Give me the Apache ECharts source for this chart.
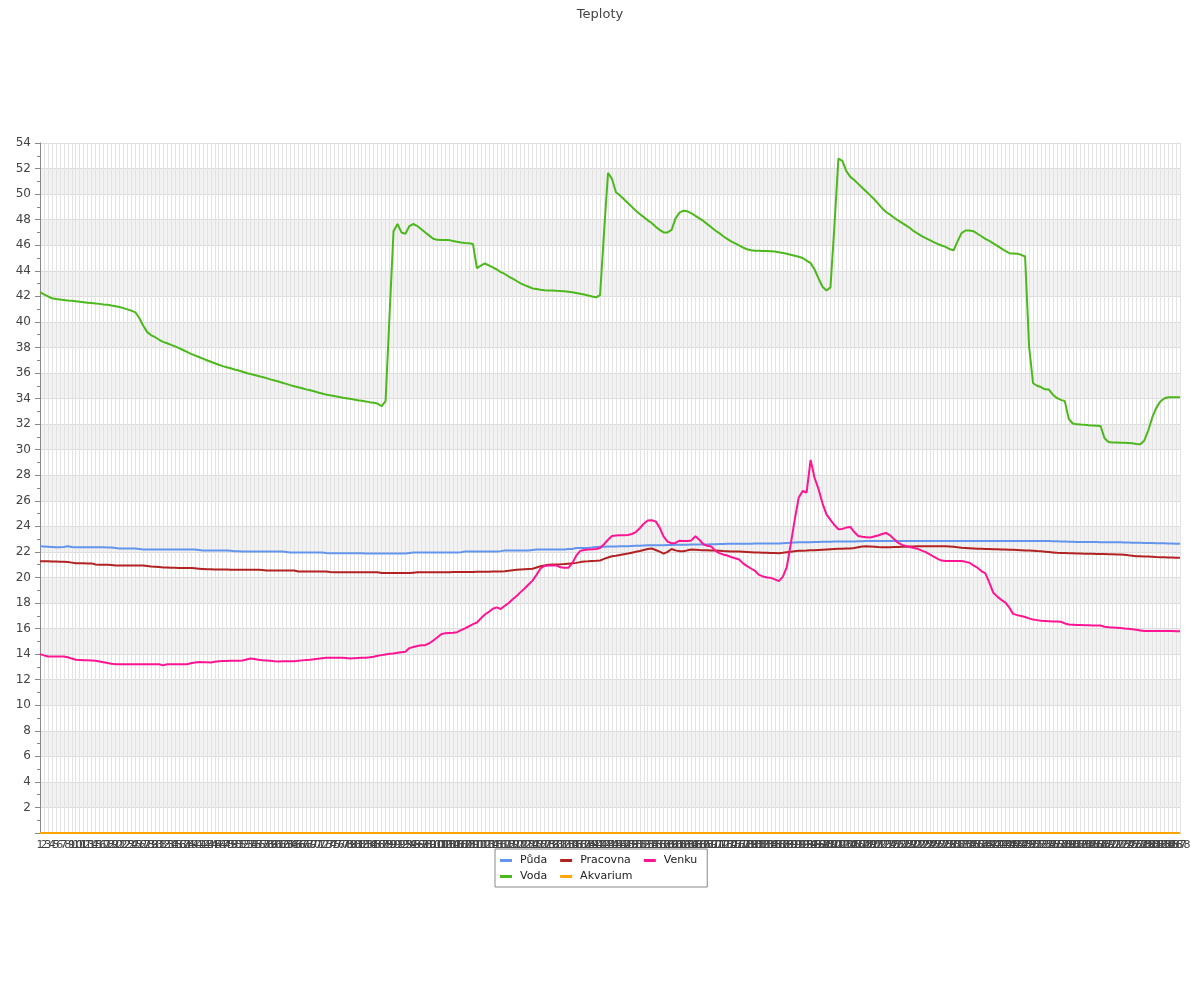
<!DOCTYPE html>
<html>
<head>
<meta charset="utf-8">
<script src="https://cdn.jsdelivr.net/npm/echarts@6/dist/echarts.min.js"></script>
<style>html,body{margin:0;padding:0;background:#fff}#c{width:1200px;height:1000px}</style>
</head>
<body>
<div id="c"></div>
<script>
// categories 1..288 (five-minute samples)
var categories = [];
for (var k = 1; k <= 288; k++) categories.push(String(k));

var puda = [
22.44,22.42,22.40,22.38,22.36,22.36,22.38,22.44,22.38,22.36,22.36,22.36,
22.36,22.36,22.36,22.36,22.36,22.34,22.34,22.30,22.26,22.26,22.26,22.26,
22.26,22.22,22.18,22.18,22.18,22.18,22.18,22.18,22.18,22.18,22.18,22.18,
22.18,22.18,22.18,22.18,22.14,22.10,22.10,22.10,22.10,22.10,22.10,22.10,
22.08,22.05,22.05,22.03,22.03,22.03,22.03,22.03,22.03,22.03,22.03,22.03,
22.03,22.03,22.00,21.95,21.95,21.95,21.95,21.95,21.95,21.95,21.95,21.95,
21.92,21.90,21.90,21.90,21.90,21.90,21.90,21.90,21.90,21.90,21.88,21.87,
21.87,21.87,21.87,21.87,21.87,21.87,21.87,21.87,21.87,21.92,21.95,21.95,
21.95,21.95,21.95,21.95,21.95,21.95,21.95,21.95,21.95,21.95,21.98,22.03,
22.03,22.03,22.03,22.03,22.03,22.03,22.03,22.03,22.06,22.10,22.10,22.10,
22.10,22.10,22.10,22.10,22.14,22.18,22.18,22.18,22.18,22.18,22.18,22.18,
22.18,22.23,22.23,22.30,22.30,22.30,22.30,22.34,22.39,22.40,22.41,22.42,
22.42,22.43,22.44,22.44,22.44,22.46,22.48,22.49,22.50,22.51,22.52,22.52,
22.52,22.52,22.53,22.54,22.55,22.55,22.56,22.56,22.57,22.57,22.57,22.57,
22.58,22.59,22.60,22.61,22.62,22.63,22.63,22.63,22.63,22.64,22.64,22.64,
22.65,22.65,22.65,22.65,22.65,22.65,22.66,22.68,22.70,22.72,22.74,22.75,
22.76,22.76,22.76,22.77,22.78,22.79,22.80,22.80,22.81,22.81,22.81,22.81,
22.81,22.82,22.83,22.84,22.85,22.86,22.86,22.86,22.86,22.86,22.86,22.86,
22.86,22.86,22.86,22.86,22.86,22.86,22.86,22.86,22.86,22.86,22.86,22.86,
22.86,22.86,22.86,22.86,22.86,22.86,22.86,22.86,22.86,22.86,22.86,22.86,
22.86,22.86,22.86,22.86,22.86,22.86,22.86,22.86,22.86,22.86,22.86,22.86,
22.86,22.86,22.85,22.84,22.83,22.82,22.81,22.80,22.79,22.78,22.78,22.78,
22.77,22.77,22.77,22.76,22.76,22.76,22.76,22.76,22.75,22.74,22.73,22.72,
22.72,22.71,22.70,22.70,22.69,22.68,22.68,22.67,22.66,22.65,22.64,22.63
];

var voda = [
42.34,42.15,42.00,41.85,41.80,41.76,41.72,41.68,41.65,41.62,41.58,41.54,
41.50,41.47,41.44,41.41,41.37,41.34,41.28,41.23,41.17,41.08,40.98,40.88,
40.75,40.30,39.70,39.20,38.95,38.80,38.60,38.44,38.33,38.20,38.08,37.95,
37.80,37.65,37.50,37.38,37.25,37.12,37.00,36.88,36.76,36.65,36.54,36.45,
36.37,36.28,36.20,36.10,36.00,35.92,35.85,35.77,35.68,35.60,35.50,35.42,
35.33,35.24,35.15,35.05,34.96,34.88,34.80,34.72,34.65,34.57,34.48,34.40,
34.31,34.25,34.20,34.14,34.08,34.03,33.98,33.93,33.87,33.82,33.77,33.72,
33.68,33.60,33.40,33.80,40.50,47.10,47.66,47.00,46.90,47.50,47.66,47.50,
47.25,47.00,46.75,46.50,46.42,46.40,46.40,46.40,46.33,46.27,46.22,46.18,
46.15,46.10,44.20,44.40,44.57,44.42,44.26,44.10,43.90,43.75,43.55,43.38,
43.20,43.02,42.88,42.75,42.62,42.57,42.52,42.48,42.46,42.45,42.43,42.42,
42.40,42.36,42.32,42.26,42.20,42.14,42.06,41.98,41.92,42.10,47.00,51.66,
51.20,50.15,49.90,49.60,49.30,49.00,48.70,48.45,48.20,47.95,47.74,47.45,
47.20,47.00,47.00,47.20,48.10,48.55,48.70,48.65,48.50,48.30,48.10,47.90,
47.65,47.40,47.15,46.95,46.70,46.50,46.30,46.15,45.98,45.82,45.68,45.60,
45.57,45.56,45.55,45.54,45.53,45.50,45.45,45.40,45.33,45.25,45.18,45.10,
45.00,44.80,44.60,44.10,43.40,42.75,42.45,42.70,47.50,52.78,52.60,51.80,
51.35,51.10,50.80,50.50,50.20,49.90,49.60,49.25,48.90,48.60,48.40,48.15,
47.95,47.75,47.55,47.35,47.10,46.90,46.72,46.55,46.40,46.25,46.10,45.98,
45.87,45.70,45.60,46.30,46.95,47.15,47.15,47.10,46.90,46.70,46.50,46.34,
46.15,45.95,45.75,45.55,45.38,45.36,45.34,45.25,45.12,38.10,35.20,35.00,
34.90,34.72,34.70,34.30,34.05,33.90,33.80,32.40,32.05,31.98,31.96,31.95,
31.92,31.90,31.88,31.85,30.90,30.60,30.57,30.57,30.55,30.54,30.52,30.50,
30.45,30.42,30.70,31.50,32.50,33.25,33.75,34.00,34.10,34.10,34.10,34.10
];

var pracovna = [
21.27,21.27,21.26,21.25,21.25,21.23,21.22,21.20,21.16,21.12,21.12,21.11,
21.10,21.10,21.02,21.00,21.00,20.99,20.97,20.94,20.94,20.94,20.94,20.94,
20.94,20.94,20.94,20.90,20.86,20.84,20.81,20.78,20.77,20.76,20.75,20.74,
20.74,20.73,20.73,20.71,20.69,20.67,20.65,20.64,20.63,20.63,20.62,20.62,
20.61,20.61,20.60,20.60,20.60,20.60,20.60,20.60,20.58,20.55,20.55,20.55,
20.55,20.55,20.55,20.55,20.55,20.47,20.47,20.47,20.47,20.47,20.47,20.47,
20.47,20.42,20.40,20.40,20.40,20.40,20.40,20.40,20.40,20.40,20.40,20.40,
20.40,20.40,20.34,20.34,20.34,20.34,20.34,20.34,20.34,20.34,20.37,20.40,
20.40,20.40,20.40,20.40,20.41,20.41,20.41,20.41,20.42,20.42,20.42,20.42,
20.43,20.43,20.44,20.44,20.45,20.45,20.46,20.46,20.47,20.48,20.52,20.57,
20.60,20.62,20.64,20.66,20.68,20.78,20.88,20.94,21.00,21.01,21.02,21.03,
21.05,21.08,21.11,21.14,21.20,21.25,21.26,21.28,21.30,21.33,21.45,21.56,
21.66,21.70,21.76,21.82,21.87,21.94,22.01,22.07,22.15,22.22,22.26,22.15,
22.02,21.87,22.00,22.23,22.12,22.05,22.05,22.12,22.18,22.16,22.14,22.13,
22.12,22.11,22.10,22.08,22.06,22.05,22.04,22.03,22.03,22.02,22.00,21.98,
21.96,21.95,21.94,21.93,21.92,21.91,21.90,21.93,21.98,22.02,22.05,22.08,
22.09,22.10,22.12,22.13,22.15,22.17,22.19,22.21,22.23,22.24,22.25,22.26,
22.26,22.30,22.36,22.42,22.44,22.42,22.40,22.38,22.37,22.37,22.37,22.38,
22.39,22.40,22.41,22.42,22.43,22.44,22.44,22.44,22.44,22.44,22.44,22.44,
22.44,22.42,22.40,22.36,22.33,22.31,22.29,22.27,22.25,22.24,22.23,22.22,
22.21,22.20,22.19,22.18,22.17,22.16,22.15,22.13,22.11,22.10,22.08,22.06,
22.05,22.02,21.99,21.96,21.93,21.92,21.91,21.90,21.89,21.88,21.87,21.86,
21.86,21.85,21.84,21.84,21.83,21.82,21.81,21.80,21.80,21.77,21.73,21.70,
21.66,21.65,21.64,21.63,21.62,21.60,21.59,21.58,21.57,21.56,21.55,21.54
];

var akvarium = [
0,0,0,0,0,0,0,0,0,0,0,0, 0,0,0,0,0,0,0,0,0,0,0,0,
0,0,0,0,0,0,0,0,0,0,0,0, 0,0,0,0,0,0,0,0,0,0,0,0,
0,0,0,0,0,0,0,0,0,0,0,0, 0,0,0,0,0,0,0,0,0,0,0,0,
0,0,0,0,0,0,0,0,0,0,0,0, 0,0,0,0,0,0,0,0,0,0,0,0,
0,0,0,0,0,0,0,0,0,0,0,0, 0,0,0,0,0,0,0,0,0,0,0,0,
0,0,0,0,0,0,0,0,0,0,0,0, 0,0,0,0,0,0,0,0,0,0,0,0,
0,0,0,0,0,0,0,0,0,0,0,0, 0,0,0,0,0,0,0,0,0,0,0,0,
0,0,0,0,0,0,0,0,0,0,0,0, 0,0,0,0,0,0,0,0,0,0,0,0,
0,0,0,0,0,0,0,0,0,0,0,0, 0,0,0,0,0,0,0,0,0,0,0,0,
0,0,0,0,0,0,0,0,0,0,0,0, 0,0,0,0,0,0,0,0,0,0,0,0,
0,0,0,0,0,0,0,0,0,0,0,0, 0,0,0,0,0,0,0,0,0,0,0,0,
0,0,0,0,0,0,0,0,0,0,0,0, 0,0,0,0,0,0,0,0,0,0,0,0
];

var venku = [
14.00,13.90,13.82,13.82,13.82,13.82,13.82,13.75,13.65,13.56,13.54,13.52,
13.51,13.50,13.48,13.42,13.36,13.30,13.24,13.20,13.20,13.20,13.20,13.20,
13.20,13.20,13.20,13.20,13.20,13.20,13.20,13.12,13.20,13.20,13.20,13.20,
13.20,13.20,13.28,13.35,13.38,13.37,13.36,13.35,13.40,13.45,13.46,13.47,
13.48,13.48,13.49,13.50,13.58,13.66,13.62,13.56,13.52,13.50,13.48,13.45,
13.43,13.44,13.44,13.45,13.45,13.48,13.51,13.54,13.56,13.60,13.64,13.68,
13.71,13.71,13.71,13.71,13.71,13.69,13.66,13.68,13.70,13.71,13.71,13.75,
13.80,13.87,13.92,13.97,14.02,14.05,14.10,14.15,14.18,14.47,14.55,14.63,
14.70,14.70,14.85,15.06,15.30,15.55,15.64,15.66,15.68,15.72,15.87,16.02,
16.18,16.35,16.47,16.80,17.10,17.30,17.55,17.66,17.53,17.78,18.00,18.30,
18.55,18.85,19.14,19.45,19.75,20.20,20.70,20.90,20.94,20.94,20.94,20.80,
20.75,20.75,21.10,21.70,22.08,22.15,22.18,22.20,22.23,22.30,22.60,22.95,
23.25,23.28,23.30,23.31,23.32,23.40,23.55,23.85,24.20,24.45,24.47,24.39,
23.90,23.20,22.80,22.68,22.70,22.88,22.86,22.85,22.90,23.22,22.95,22.60,
22.48,22.42,22.10,21.90,21.80,21.72,21.60,21.50,21.41,21.10,20.89,20.70,
20.52,20.20,20.08,20.00,19.97,19.85,19.71,20.05,20.80,22.60,24.50,26.24,
26.76,26.65,29.20,27.80,26.90,25.80,24.93,24.50,24.10,23.77,23.80,23.90,
23.95,23.55,23.25,23.18,23.15,23.12,23.20,23.28,23.40,23.48,23.30,23.00,
22.72,22.55,22.46,22.38,22.30,22.24,22.10,21.98,21.80,21.62,21.45,21.32,
21.28,21.28,21.28,21.28,21.28,21.22,21.15,20.95,20.76,20.50,20.32,19.60,
18.80,18.50,18.25,18.05,17.65,17.15,17.05,16.98,16.90,16.80,16.70,16.66,
16.62,16.60,16.58,16.56,16.55,16.53,16.40,16.32,16.30,16.28,16.27,16.26,
16.25,16.24,16.24,16.24,16.14,16.10,16.08,16.06,16.04,16.00,15.98,15.95,
15.90,15.85,15.80,15.80,15.80,15.80,15.80,15.80,15.80,15.80,15.78,15.78
];

var seriesNames = ['Půda', 'Voda', 'Pracovna', 'Akvarium', 'Venku'];
var seriesColors = ['#6495ED', '#4cb81c', '#B22222', '#FFA500', '#FF1493'];
var seriesData = [puda, voda, pracovna, akvarium, venku];
var legendOrder = ['Půda', 'Pracovna', 'Venku', 'Voda', 'Akvarium'];

var FONT = 'DejaVu Sans';
var chart = echarts.init(document.getElementById('c'), null, {renderer: 'canvas'});
var option = {
  animation: false,
  backgroundColor: '#fff',
  title: {
    text: 'Teploty', left: 'center', top: 3,
    textStyle: {fontFamily: FONT, fontSize: 13, fontWeight: 'normal', color: '#444'}
  },
  legend: {
    data: legendOrder,
    left: 495, top: 849, width: 212,
    orient: 'horizontal',
    itemWidth: 12, itemHeight: 3, itemGap: 5,
    icon: 'rect',
    padding: [6, 2, 5, 5],
    borderColor: '#888', borderWidth: 1, borderRadius: 0,
    textStyle: {fontFamily: FONT, fontSize: 11, lineHeight: 11, color: '#222', padding: [0, 8, 0, 3]}
  },
  grid: {left: 40, right: 20, top: 143, bottom: 167, containLabel: false},
  xAxis: {
    type: 'category', data: categories, boundaryGap: false,
    axisLine: {show: true, lineStyle: {color: '#888', width: 1}},
    axisTick: {show: false},
    axisLabel: {interval: 0, hideOverlap: false, fontFamily: FONT, fontSize: 11, color: '#444', margin: 7},
    splitLine: {show: true, interval: 0, lineStyle: {color: '#e3e3e3', width: 1}}
  },
  yAxis: {
    type: 'value', min: 0, max: 54, interval: 2,
    axisLine: {show: true, lineStyle: {color: '#888', width: 1}},
    axisTick: {show: true, length: 5, lineStyle: {color: '#888'}},
    minorTick: {show: true, splitNumber: 2, length: 3, lineStyle: {color: '#888'}},
    axisLabel: {fontFamily: FONT, fontSize: 12, color: '#444', margin: 9,
      formatter: function (v) { return v === 0 ? '' : String(v); }},
    splitLine: {show: true, lineStyle: {color: '#dcdcdc', width: 1}},
    splitArea: {show: true, areaStyle: {color: ['rgba(255,255,255,0)', '#f2f2f2']}}
  },
  series: seriesNames.map(function (n, idx) {
    return {
      name: n, type: 'line', data: seriesData[idx], showSymbol: false, symbol: 'none',
      color: seriesColors[idx],
      lineStyle: {color: seriesColors[idx], width: 2}
    };
  })
};
chart.setOption(option);
</script>
</body>
</html>
